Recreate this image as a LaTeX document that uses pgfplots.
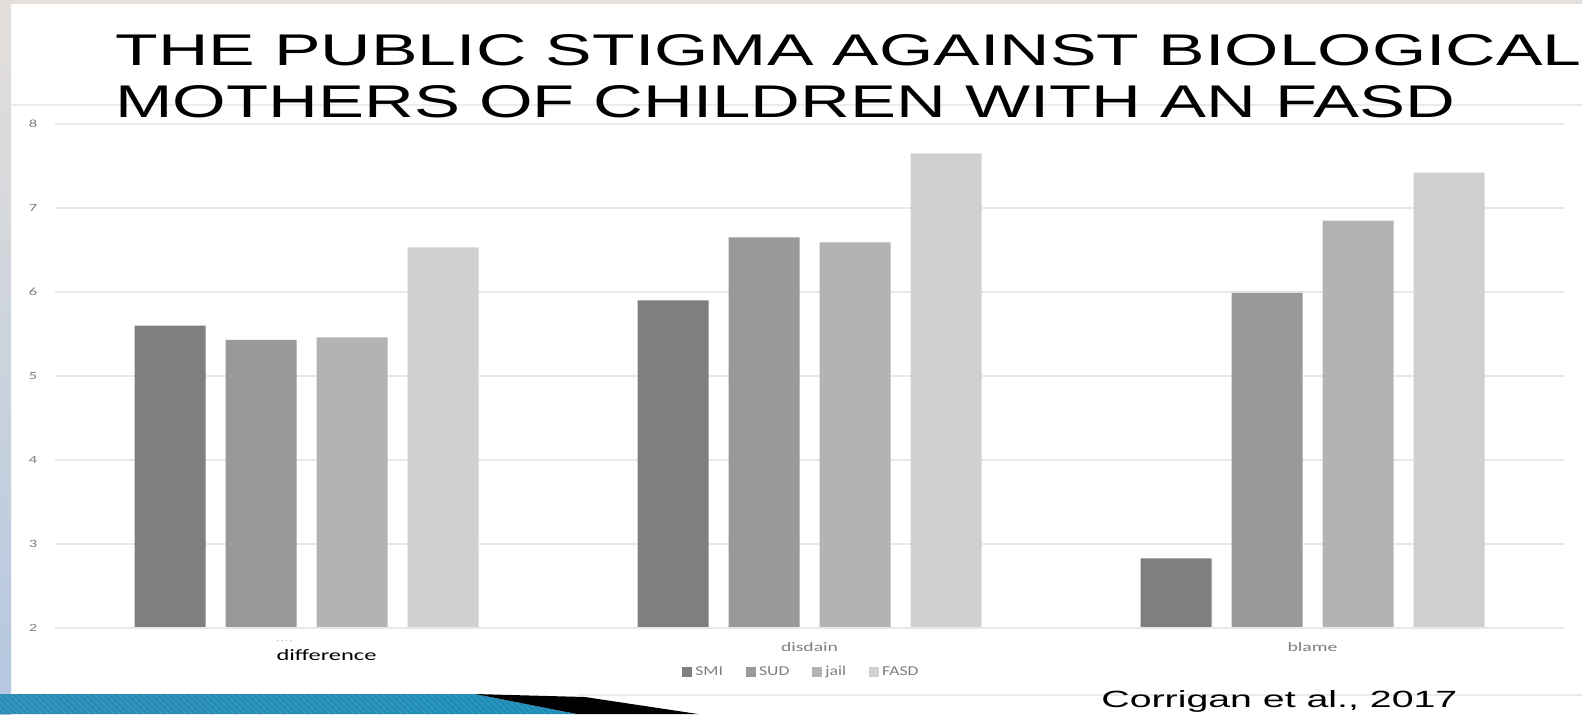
\documentclass[border=0pt]{standalone}
\usepackage{pgfplots}
\pgfplotsset{compat=1.18}
\usepackage{fontspec}
\setmainfont{Liberation Sans}
\newfontfamily\calfont{Carlito}
\usepackage{graphicx}
\usetikzlibrary{patterns}

\definecolor{cSMI}{HTML}{7F7F7F}
\definecolor{cSUD}{HTML}{999999}
\definecolor{cJail}{HTML}{B3B3B3}
\definecolor{cFASD}{HTML}{D0D0D0}
\definecolor{gridc}{HTML}{E8E8E8}
\definecolor{tickc}{HTML}{7F7F7F}
\definecolor{stripTop}{HTML}{E4DFDA}
\definecolor{stripBot}{HTML}{B3C7E0}
\definecolor{bandA}{HTML}{2A8DB6}
\definecolor{bandB}{HTML}{62C6E4}
\definecolor{bandC}{HTML}{1B8DB8}
\definecolor{lineC}{HTML}{EBEBEB}

\begin{document}
\begin{tikzpicture}
\path[use as bounding box] (0pt,0pt) rectangle (791pt,-357pt);
\begin{scope}[x=0.5pt,y=-0.5pt]
\fill[white] (0,0) rectangle (1582,714);
\fill[stripTop] (0,0) rectangle (1582,4);
\shade[top color=stripTop, bottom color=stripBot] (0,0) rectangle (11,714);
\draw[lineC, line width=0.6pt] (11,105) -- (1582,105);
\draw[lineC, line width=0.6pt] (577,695) -- (1582,695);
% bottom decoration
\shade[left color=bandA, middle color=bandB, right color=bandC] (0,694) -- (475,694) -- (577,714) -- (0,714) -- cycle;
\fill[pattern=north west lines, pattern color=white, opacity=0.12] (0,694) -- (475,694) -- (577,714) -- (0,714) -- cycle;
\fill[black] (475,694) -- (585,697) -- (698,714) -- (577,714) -- cycle;
\end{scope}

\begin{axis}[
  at={(27.5pt,-314pt)}, anchor=south west,
  scale only axis, width=754.5pt, height=252pt,
  ybar=10pt, bar width=35.5pt,
  xmin=-0.5, xmax=2.5, ymin=2, ymax=8,
  xtick=\empty, ytick={2,3,4,5,6,7,8},
  axis line style={draw=none},
  major tick length=0pt,
  ymajorgrids, grid style={gridc, line width=0.8pt},
  yticklabel={\scalebox{1.5}[1]{\pgfmathprintnumber[assume math mode=true]{\tick}}},
  yticklabel style={font=\calfont\fontsize{5.5}{5.5}\selectfont, text=tickc, anchor=center, xshift=-11pt},
  legend style={at={(0.495,-0.088)}, anchor=center, draw=none, fill=none,
    font=\calfont\fontsize{6.8}{6.8}\selectfont, text=tickc,
    nodes={inner xsep=1.5pt, inner ysep=0pt},
    /tikz/every even column/.append style={column sep=10pt}},
  legend columns=4,
  legend image code/.code={\fill[#1] (0pt,-2.5pt) rectangle (5pt,2.5pt);},
  clip=false,
]
\addplot[fill=cSMI, draw=none] coordinates {(0,5.60) (1,5.90) (2,2.83)};
\addplot[fill=cSUD, draw=none] coordinates {(0,5.43) (1,6.65) (2,5.99)};
\addplot[fill=cJail, draw=none] coordinates {(0,5.46) (1,6.59) (2,6.85)};
\addplot[fill=cFASD, draw=none] coordinates {(0,6.53) (1,7.65) (2,7.42)};
\legend{\scalebox{1.3}[1]{SMI},\scalebox{1.3}[1]{SUD},\scalebox{1.3}[1]{jail},\scalebox{1.3}[1]{FASD}}
\draw[gridc, line width=0.8pt] (axis cs:-0.5,2) -- (axis cs:2.5,2);
\node[anchor=base, inner sep=0pt, text=black] at (axis cs:0,2) [xshift=10pt, yshift=-16pt]
  {\resizebox{50pt}{5.5pt}{\calfont difference}};
\node[anchor=base, inner sep=0pt, text=tickc] at (axis cs:0,2) [xshift=-11pt, yshift=-6.5pt]
  {\calfont\fontsize{4}{4}\selectfont . . . .};
\node[anchor=base, inner sep=0pt, text=tickc] at (axis cs:1,2) [xshift=0pt, yshift=-11.5pt]
  {\resizebox{28.5pt}{4.5pt}{\calfont disdain}};
\node[anchor=base, inner sep=0pt, text=tickc] at (axis cs:2,2) [xshift=0pt, yshift=-11.5pt]
  {\resizebox{25pt}{4.5pt}{\calfont blame}};
\end{axis}

\begin{scope}[x=0.5pt,y=-0.5pt]
\node[anchor=base west, inner sep=0pt] at (115,65) {\resizebox{733pt}{15.5pt}{THE PUBLIC STIGMA AGAINST BIOLOGICAL}};
\node[anchor=base west, inner sep=0pt] at (115,117) {\resizebox{670pt}{16pt}{MOTHERS OF CHILDREN WITH AN FASD}};
\node[anchor=base west, inner sep=0pt] at (1101,707) {\resizebox{178pt}{8.5pt}{Corrigan et al., 2017}};
\end{scope}
\end{tikzpicture}
\end{document}
